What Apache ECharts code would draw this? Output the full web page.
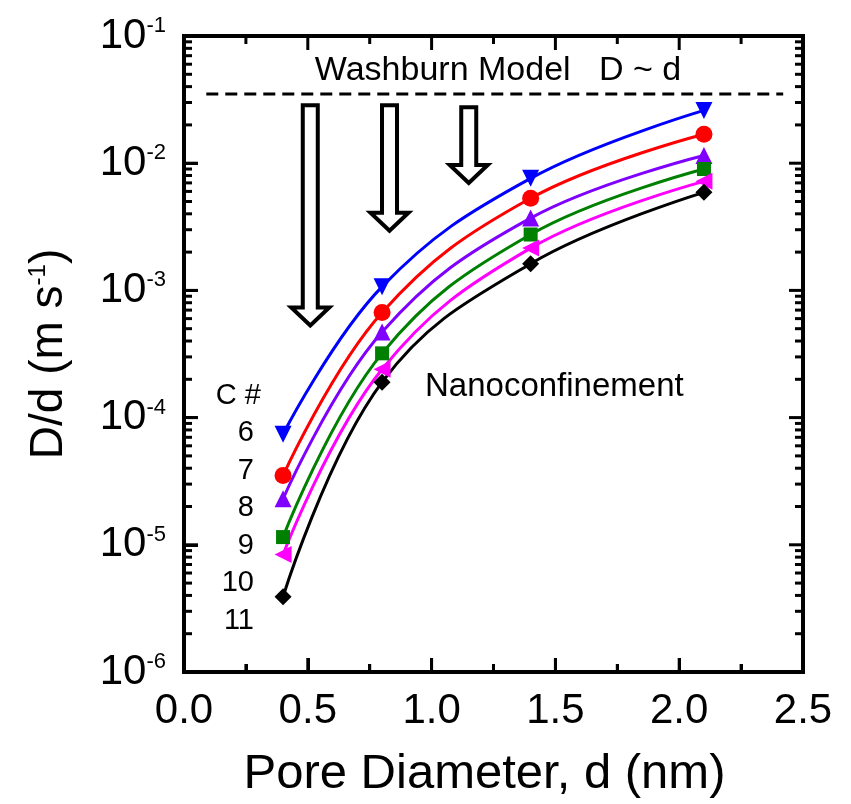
<!DOCTYPE html>
<html>
<head>
<meta charset="utf-8">
<script src="https://cdn.jsdelivr.net/npm/echarts@6/dist/echarts.min.js"></script>
<style>
  html, body { margin: 0; padding: 0; background: #fff; }
  #chart { width: 851px; height: 804px; }
</style>
</head>
<body>
<div id="chart"></div>
<script>
// values
const poreDiameter = [0.4, 0.8, 1.4, 2.1];
const c6 = [7.4e-5, 1.07e-3, 7.6e-3, 2.6e-2];
const c7 = [3.5e-5, 6.7e-4, 5.3e-3, 1.69e-2];
const c8 = [2.3e-5, 4.7e-4, 3.7e-3, 1.15e-2];
const c9 = [1.15e-5, 3.2e-4, 2.75e-3, 9.0e-3];
const c10 = [8.4e-6, 2.4e-4, 2.15e-3, 7.2e-3];
const c11 = [3.9e-6, 1.9e-4, 1.62e-3, 5.9e-3];
const carbonLabels = ["6", "7", "8", "9", "10", "11"];
const washburnX = [0.09, 2.42];
const washburnY = 0.035;
const arrowX = [0.51, 0.83, 1.15];
const arrowTop = [0.0285, 0.0285, 0.0275];
const arrowTip = [5.3e-4, 2.95e-3, 7.0e-3];

const font = "'Liberation Sans', Arial, sans-serif";

const chart = echarts.init(document.getElementById("chart"));

const seriesDefs = [
  { name: "6", data: c6, color: "#0000ff", symbol: "triangle", rotate: 180, size: 17 },
  { name: "7", data: c7, color: "#ff0000", symbol: "circle", rotate: 0, size: 17 },
  { name: "8", data: c8, color: "#7f00ff", symbol: "triangle", rotate: 0, size: 17 },
  { name: "9", data: c9, color: "#008000", symbol: "rect", rotate: 0, size: 14 },
  { name: "10", data: c10, color: "#ff00ff", symbol: "triangle", rotate: 90, size: 17 },
  { name: "11", data: c11, color: "#000000", symbol: "diamond", rotate: 0, size: 17 }
];

const series = seriesDefs.map(s => ({
  name: s.name,
  type: "line",
  smooth: 0.4,
  data: poreDiameter.map((x, i) => [x, s.data[i]]),
  symbol: s.symbol,
  symbolRotate: s.rotate,
  symbolSize: s.size,
  lineStyle: { color: s.color, width: 3 },
  itemStyle: { color: s.color },
  z: 3
}));

series.push({
  name: "washburn",
  type: "line",
  data: washburnX.map(x => [x, washburnY]),
  symbol: "none",
  lineStyle: { color: "#000", width: 3, type: [12, 7] },
  z: 2
});

const option = {
  animation: false,
  grid: { left: 184, right: 48, top: 36, bottom: 128 },
  xAxis: {
    type: "value",
    min: 0,
    max: 2.5,
    interval: 0.5,
    position: "bottom",
    axisLine: { show: true, onZero: false, lineStyle: { color: "#000", width: 4 } },
    axisTick: { inside: true, length: 14, lineStyle: { color: "#000", width: 3 } },
    minorTick: { show: true, splitNumber: 2, length: 8, lineStyle: { color: "#000", width: 3 } },
    splitLine: { show: false },
    name: "Pore Diameter, d (nm)",
    nameLocation: "middle",
    nameGap: 78,
    nameTextStyle: { fontFamily: font, fontSize: 49, color: "#000", padding: [0, 18, 0, 0] },
    axisLabel: {
      fontFamily: font, fontSize: 42, color: "#000", margin: 18,
      formatter: v => v.toFixed(1)
    }
  },
  yAxis: {
    type: "log",
    logBase: 10,
    min: 1e-6,
    max: 1e-1,
    position: "left",
    axisLine: { show: true, onZero: false, lineStyle: { color: "#000", width: 4 } },
    axisTick: { inside: true, length: 14, lineStyle: { color: "#000", width: 3 } },
    splitLine: { show: false },
    name: "{n|D/d (m s}{s|-1}{n|)}",
    nameLocation: "middle",
    nameRotate: 90,
    nameGap: 112,
    nameTextStyle: {
      rich: {
        n: { fontFamily: font, fontSize: 46, color: "#000" },
        s: { fontFamily: font, fontSize: 24, color: "#000", verticalAlign: "top", lineHeight: 46 }
      }
    },
    axisLabel: {
      margin: 18,
      formatter: v => "{b|10}{s|" + Math.round(Math.log10(v)) + "}",
      rich: {
        b: { fontFamily: font, fontSize: 42, color: "#000" },
        s: { fontFamily: font, fontSize: 22, color: "#000", verticalAlign: "top", lineHeight: 42 }
      }
    }
  },
  series: series
};

chart.setOption(option);

// frame, mirrored ticks, log minor ticks, arrows and text labels
function decorate() {
  const g = [];
  const tick = (x1, y1, x2, y2) => g.push({ type: "line", shape: { x1, y1, x2, y2 }, style: { stroke: "#000", lineWidth: 3 }, silent: true, z: 4 });
  const xl = chart.convertToPixel({ xAxisIndex: 0 }, 0);
  const xr = chart.convertToPixel({ xAxisIndex: 0 }, 2.5);
  const yt = chart.convertToPixel({ yAxisIndex: 0 }, 1e-1);
  const yb = chart.convertToPixel({ yAxisIndex: 0 }, 1e-6);
  // frame as four filled bars
  const bw = 4;
  [
    [xl - bw / 2, yt - bw / 2, xr - xl + bw, bw],
    [xl - bw / 2, yb - bw / 2, xr - xl + bw, bw],
    [xl - bw / 2, yt - bw / 2, bw, yb - yt + bw],
    [xr - bw / 2, yt - bw / 2, bw, yb - yt + bw]
  ].forEach(r => g.push({
    type: "rect",
    shape: { x: r[0], y: r[1], width: r[2], height: r[3] },
    style: { fill: "#000" },
    silent: true,
    z: 4
  }));
  // y: major and minor ticks on both sides
  for (let k = -6; k <= -1; k++) {
    const yMaj = chart.convertToPixel({ yAxisIndex: 0 }, Math.pow(10, k));
    tick(xr - 14, yMaj, xr, yMaj);
    tick(xl, yMaj, xl + 14, yMaj);
    if (k === -1) continue;
    for (let m = 2; m <= 9; m++) {
      const y = chart.convertToPixel({ yAxisIndex: 0 }, m * Math.pow(10, k));
      tick(xl, y, xl + 8, y);
      tick(xr - 8, y, xr, y);
    }
  }
  // x: ticks on top and bottom
  for (let i = 0; i <= 10; i++) {
    const x = chart.convertToPixel({ xAxisIndex: 0 }, i * 0.25);
    const len = i % 2 === 0 ? 14 : 8;
    tick(x, yt, x, yt + len);
    tick(x, yb, x, yb - len);
  }
  arrowX.forEach((ax, i) => {
    const cx = chart.convertToPixel({ xAxisIndex: 0 }, ax);
    const top = chart.convertToPixel({ yAxisIndex: 0 }, arrowTop[i]);
    const tip = chart.convertToPixel({ yAxisIndex: 0 }, arrowTip[i]);
    const sw = 7.5, hw = 19, hl = 18;
    g.push({
      type: "polygon",
      shape: { points: [
        [cx - sw, top], [cx + sw, top], [cx + sw, tip - hl], [cx + hw, tip - hl],
        [cx, tip], [cx - hw, tip - hl], [cx - sw, tip - hl]
      ] },
      style: { fill: "#fff", stroke: "#000", lineWidth: 4 },
      z: 5
    });
  });
  const tStyle = (txt, size, align) => ({ text: txt, fontFamily: font, fontSize: size, fill: "#000", textAlign: align, textVerticalAlign: "middle" });
  g.push({ type: "text", x: 498, y: 71, style: tStyle("Washburn Model   D ~ d", 34, "center"), z: 6 });
  g.push({ type: "text", x: 425, y: 387, style: tStyle("Nanoconfinement", 33, "left"), z: 6 });
  g.push({ type: "text", x: 261, y: 396, style: tStyle("C #", 29, "right"), z: 6 });
  carbonLabels.forEach((c, i) => {
    g.push({ type: "text", x: 254, y: 433 + i * 37.5, style: tStyle(c, 29, "right"), z: 6 });
  });
  chart.setOption({ graphic: g });
}
decorate();
</script>
</body>
</html>
